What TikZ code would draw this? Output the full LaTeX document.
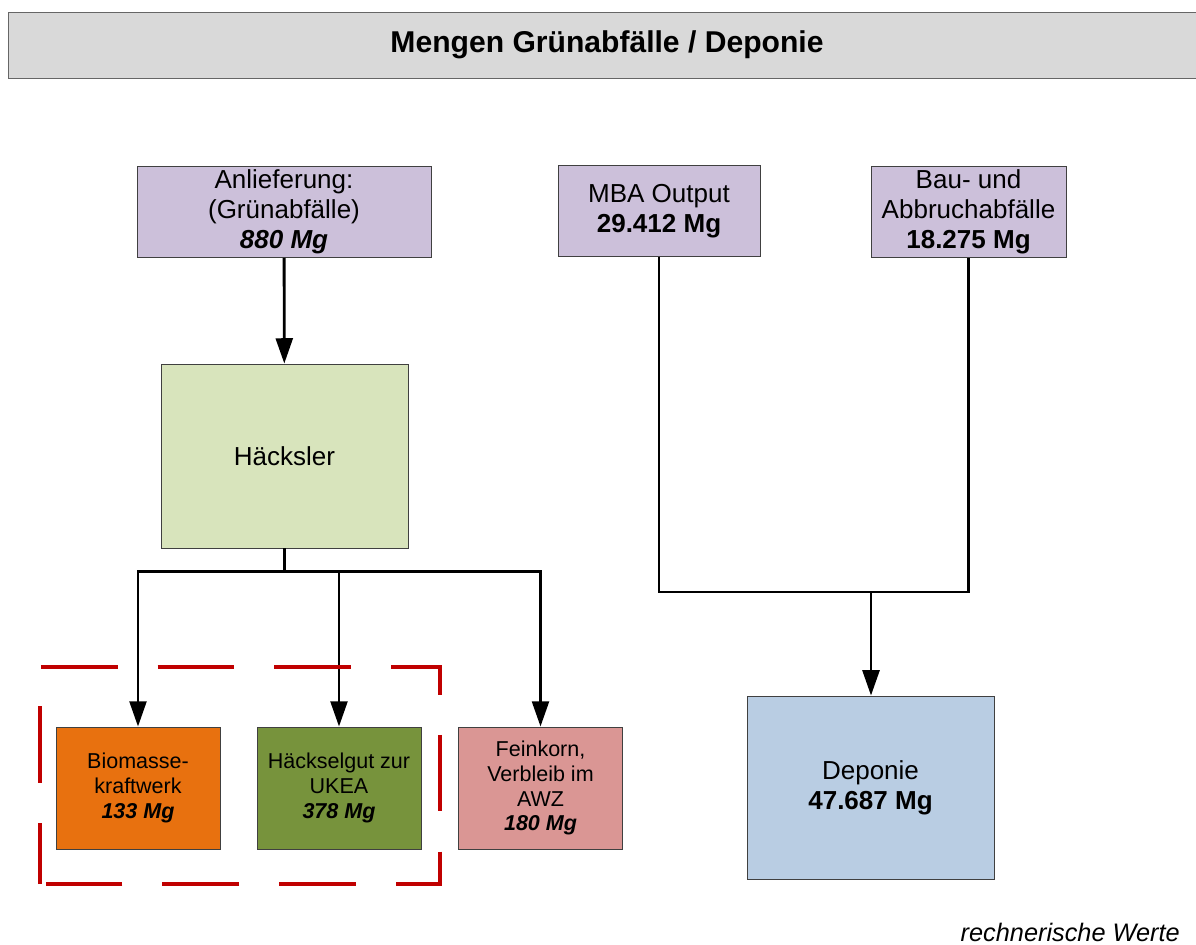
\documentclass[tikz,border=0pt]{standalone}
\usepackage{fontspec}
\setmainfont{Liberation Sans}
\usetikzlibrary{arrows.meta}

\definecolor{titlegray}{HTML}{D9D9D9}
\definecolor{lavender}{HTML}{CCC0DA}
\definecolor{palegreen}{HTML}{D8E4BC}
\definecolor{orangebox}{HTML}{E8710F}
\definecolor{olivebox}{HTML}{77933C}
\definecolor{rosebox}{HTML}{DA9694}
\definecolor{bluebox}{HTML}{B9CDE3}
\definecolor{dashred}{HTML}{C00000}

\tikzset{
  box/.style={draw=black!75, line width=0.6pt, align=center, inner sep=0pt,
    font=\fontsize{18.5}{21.5}\selectfont},
  smallbox/.style={box, font=\fontsize{15.3}{17.7}\selectfont},
  flow/.style={line width=2pt},
  flowarrow/.style={flow, -{Triangle[length=18pt,width=12pt]}},
}

\begin{document}
\begin{tikzpicture}[x=0.025cm, y=-0.025cm]
   \useasboundingbox (0,0) rectangle (1196,945);

   % Title bar
   \draw[fill=titlegray, draw=black!60, line width=0.6pt] (8,12) rectangle (1200,78);
   \node[font=\fontsize{21.4}{24}\selectfont\bfseries] (title) at (607,45) {Mengen Grünabfälle / Deponie};

   % Inputs
   \node[box, fill=lavender, minimum width=7.35cm, minimum height=2.275cm] (anl) at (284,212)
      {Anlieferung:\\(Grünabfälle)\\\textbf{\textit{880 Mg}}};
   \node[box, fill=lavender, minimum width=5.05cm, minimum height=2.275cm] (mba) at (659,211)
      {MBA Output\\\textbf{29.412 Mg}};
   \node[box, fill=lavender, minimum width=4.875cm, minimum height=2.275cm] (bau) at (968.5,212)
      {Bau- und\\Abbruchabfälle\\\textbf{18.275 Mg}};

   % Chopper
   \node[box, fill=palegreen, minimum width=6.175cm, minimum height=4.6cm] (hack) at (284.5,456) {Häcksler};

   % Outputs
   \node[smallbox, fill=orangebox, minimum width=4.1cm, minimum height=3.05cm] (bio) at (138,788)
      {Biomasse-\\kraftwerk\\\textbf{\textit{133 Mg}}};
   \node[smallbox, fill=olivebox, minimum width=4.1cm, minimum height=3.05cm] (ukea) at (339,788)
      {Häckselgut zur\\UKEA\\\textbf{\textit{378 Mg}}};
   \node[smallbox, fill=rosebox, minimum width=4.1cm, minimum height=3.05cm] (fein) at (540.5,788)
      {Feinkorn,\\Verbleib im\\AWZ\\\textbf{\textit{180 Mg}}};
   \node[box, fill=bluebox, minimum width=6.175cm, minimum height=4.575cm] (dep) at (870.5,787.5)
      {Deponie\\\textbf{47.687 Mg}};

   % Connectors left
   \draw[flowarrow] (anl) -- (hack);
   \draw[flow] (hack.south) -- ++(0,23) coordinate (split);
   \draw[flowarrow] (split) -| (bio);
   \draw[flowarrow] (split) -| (fein);
   \draw[flowarrow] (split -| ukea) -- (ukea);

   % Connectors right
   \coordinate (join) at (871,592);
   \draw[flow] (mba) |- (join) -| (bau);
   \draw[flowarrow] (join) -- (join |- dep.north);

   % Dashed frame
   \draw[dashred, line width=2.8pt, dash pattern=on 54.5pt off 28.5pt, dash phase=11pt]
      (40,884) -- (40,667) -- (440,667) -- (440,884) -- cycle;

   % Note
   \node[anchor=base east, inner sep=0pt, font=\fontsize{18}{21}\selectfont\itshape] (note) at (1180,941) {rechnerische Werte};
\end{tikzpicture}
\end{document}
